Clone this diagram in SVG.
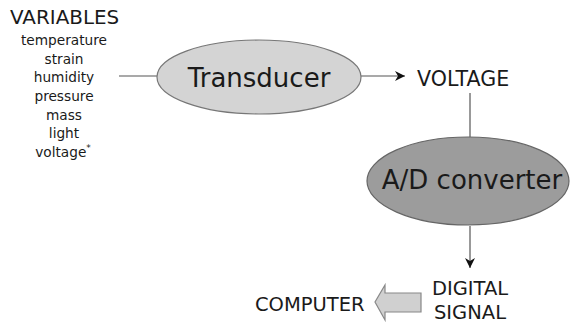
<svg xmlns="http://www.w3.org/2000/svg" width="571" height="323" viewBox="0 0 571 323">
  <style>
    text { font-family: "DejaVu Sans", Verdana, sans-serif; fill: #1a1a1a; }
    .list { font-size: 13.7px; text-anchor: middle; }
    .big { font-size: 26px; text-anchor: middle; }
    .label { font-size: 19.5px; }
    .wire { stroke: #555; stroke-width: 1.2; fill: none; }
  </style>
  <defs>
    <marker id="head" viewBox="0 0 10 10" refX="10" refY="5" markerWidth="10" markerHeight="10" markerUnits="userSpaceOnUse" orient="auto">
      <path d="M0,0 L10,5 L0,10 L3,5 Z" fill="#111"/>
    </marker>
  </defs>
  <rect width="571" height="323" fill="#fff"/>

  <g id="variables">
    <text x="10" y="24" style="font-size:19.9px">VARIABLES</text>
    <text class="list" x="64" y="45">temperature</text>
    <text class="list" x="64" y="64">strain</text>
    <text class="list" x="64" y="82">humidity</text>
    <text class="list" x="64" y="101">pressure</text>
    <text class="list" x="64" y="120">mass</text>
    <text class="list" x="64" y="138">light</text>
    <text class="list" x="63" y="157">voltage<tspan font-size="9" dy="-6">*</tspan></text>
  </g>

  <g id="connectors">
    <line class="wire" x1="119" y1="76" x2="157" y2="76"/>
    <line class="wire" x1="361" y1="76" x2="405" y2="76" marker-end="url(#head)"/>
    <line class="wire" x1="470" y1="93" x2="470" y2="137"/>
    <line class="wire" x1="470" y1="226" x2="470" y2="268" marker-end="url(#head)"/>
  </g>

  <g id="transducer">
    <ellipse cx="259" cy="77" rx="102" ry="37" fill="#d4d4d4" stroke="#777" stroke-width="1.2"/>
    <text class="big" x="259" y="87">Transducer</text>
  </g>

  <g id="voltage">
    <text class="label" x="417" y="86" style="font-size:20.6px">VOLTAGE</text>
  </g>

  <g id="ad-converter">
    <ellipse cx="468" cy="181" rx="101" ry="44" fill="#9c9c9c" stroke="#666" stroke-width="1.2"/>
    <text class="big" x="472" y="189">A/D converter</text>
  </g>

  <g id="digital-signal">
    <text class="label" x="470" y="295" text-anchor="middle">DIGITAL</text>
    <text class="label" x="470" y="319" text-anchor="middle">SIGNAL</text>
  </g>

  <g id="block-arrow">
    <path d="M421,293 L385,293 L385,285 L375,302 L385,320 L385,312 L421,312 Z" fill="#d0d0d0" stroke="#888" stroke-width="1.2"/>
  </g>

  <g id="computer">
    <text class="label" x="255" y="311">COMPUTER</text>
  </g>
</svg>
